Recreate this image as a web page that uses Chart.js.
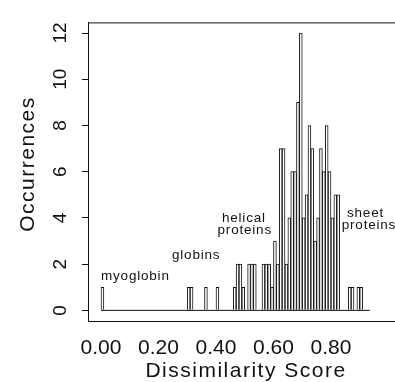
<!DOCTYPE html>
<html>
<head>
<meta charset="utf-8">
<script src="https://cdn.jsdelivr.net/npm/chart.js@4.4.1/dist/chart.umd.min.js"></script>
<style>
  html, body { margin: 0; padding: 0; background: #fff; }
  canvas { display: block; }
</style>
</head>
<body>
<canvas id="hist" width="395" height="382"></canvas>
<script>
// Histogram data (bin start, count), bin width 0.01
const binStart = [0.00, 0.30, 0.31, 0.36, 0.40, 0.46, 0.47, 0.48, 0.49, 0.51, 0.52, 0.53,
  0.56, 0.57, 0.58, 0.59, 0.60, 0.61, 0.62, 0.63, 0.64, 0.65, 0.66, 0.67, 0.68, 0.69,
  0.70, 0.71, 0.72, 0.73, 0.74, 0.75, 0.76, 0.77, 0.78, 0.79, 0.80, 0.81, 0.82,
  0.86, 0.87, 0.89, 0.90];
const counts = [1, 1, 1, 1, 1, 1, 2, 2, 1, 2, 2, 2,
  2, 2, 2, 1, 3, 2, 7, 7, 2, 4, 6, 6, 9, 12,
  4, 5, 8, 7, 3, 4, 7, 6, 8, 6, 4, 5, 5,
  1, 1, 1, 1];
const binWidth = 0.01;
const baselineEnd = 0.935;

// Axis ticks
const xTicks = [0, 0.2, 0.4, 0.6, 0.8];
const yTicks = [0, 2, 4, 6, 8, 10, 12];

// Text
const xTitle = "Dissimilarity Score";
const yTitle = "Occurrences";
const notes = [
  { text: "myoglobin", x: 0.0, y: 1.33, align: "left" },
  { text: "globins", x: 0.247, y: 2.23, align: "left" },
  { text: "helical", x: 0.497, y: 3.82, align: "center" },
  { text: "proteins", x: 0.50, y: 3.3, align: "center" },
  { text: "sheet", x: 0.92, y: 4.05, align: "center" },
  { text: "proteins", x: 0.932, y: 3.5, align: "center" }
];

const ink = "#111";
const fontFamily = '"Liberation Sans", Arial, Helvetica, sans-serif';

const bars = binStart.map((b, i) => ({ x: b + binWidth / 2, y: counts[i] }));

// frame top line, axis titles and annotations
const decor = {
  id: "decor",
  afterDraw(chart) {
    const { ctx, chartArea, scales } = chart;
    ctx.save();
    ctx.strokeStyle = ink;
    ctx.lineWidth = 1;
    ctx.beginPath();
    ctx.moveTo(chartArea.left, chartArea.top + 0.5);
    ctx.lineTo(chartArea.right, chartArea.top + 0.5);
    ctx.stroke();

    ctx.fillStyle = ink;
    ctx.textBaseline = "alphabetic";

    // annotations
    ctx.font = "13.5px " + fontFamily;
    ctx.letterSpacing = "0.8px";
    notes.forEach(n => {
      ctx.textAlign = n.align;
      ctx.fillText(n.text, scales.x.getPixelForValue(n.x), scales.y.getPixelForValue(n.y));
    });

    // axis titles
    ctx.font = "21px " + fontFamily;
    ctx.letterSpacing = "1.5px";
    ctx.textAlign = "center";
    ctx.fillText(xTitle, 246, 377);
    ctx.translate(34, 164);
    ctx.rotate(-Math.PI / 2);
    ctx.fillText(yTitle, 0, 0);
    ctx.restore();
  }
};

new Chart(document.getElementById("hist"), {
  data: {
    datasets: [
      {
        type: "bar",
        data: bars,
        backgroundColor: "#fff",
        borderColor: ink,
        borderWidth: 1,
        barPercentage: 1,
        categoryPercentage: 1,
        order: 1
      },
      {
        type: "line",
        data: [{ x: 0, y: 0 }, { x: baselineEnd, y: 0 }],
        borderColor: ink,
        borderWidth: 1,
        pointRadius: 0,
        order: 0
      }
    ]
  },
  options: {
    responsive: false,
    animation: false,
    devicePixelRatio: 1,
    layout: { padding: { top: 12, right: 0, left: 0, bottom: 0 } },
    plugins: {
      legend: { display: false },
      tooltip: { enabled: false }
    },
    scales: {
      x: {
        type: "linear",
        offset: false,
        min: -0.0452,
        max: 1.0226,
        afterFit: s => { s.height = 61; },
        afterBuildTicks: s => { s.ticks = xTicks.map(v => ({ value: v })); },
        grid: { display: false, drawTicks: false, offset: false },
        border: { display: true, color: ink, width: 1 },
        ticks: {
          padding: 15,
          color: ink,
          font: { family: fontFamily, size: 21 },
          maxRotation: 0,
          callback: v => v.toFixed(2)
        }
      },
      y: {
        min: -0.46,
        max: 12.46,
        afterFit: s => { s.width = 88; },
        afterBuildTicks: s => { s.ticks = yTicks.map(v => ({ value: v })); },
        grid: { drawOnChartArea: false, drawTicks: true, tickLength: 6, color: ink },
        border: { display: true, color: ink, width: 1 },
        ticks: {
          padding: 11,
          color: ink,
          crossAlign: "center",
          minRotation: 90,
          maxRotation: 90,
          font: { family: fontFamily, size: 19 }
        }
      }
    }
  },
  plugins: [decor]
});
</script>
</body>
</html>
